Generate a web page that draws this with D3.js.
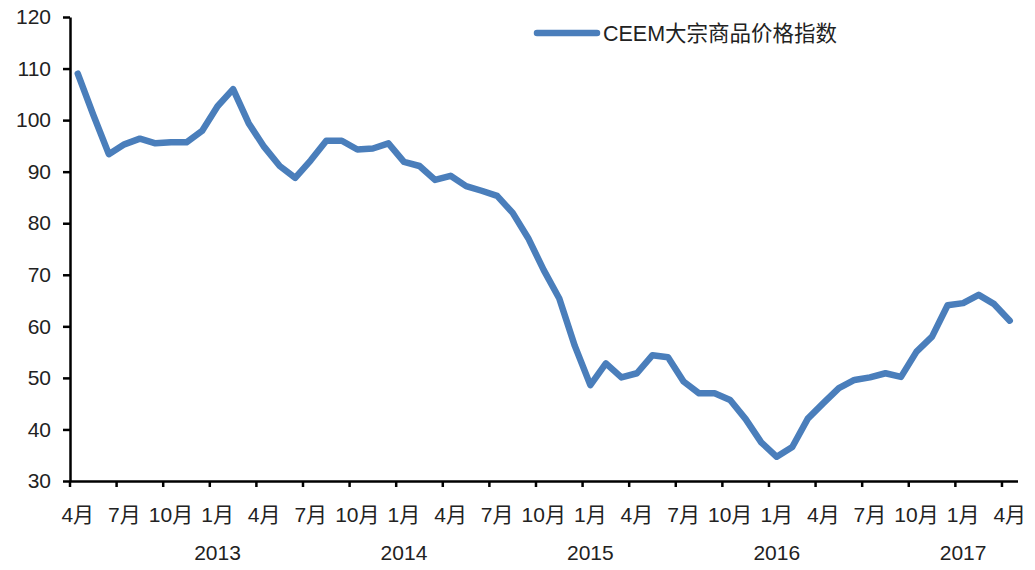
<!DOCTYPE html>
<html>
<head>
<meta charset="utf-8">
<script src="https://cdn.jsdelivr.net/npm/d3@7"></script>
<style>
  body { margin: 0; background: #fff; }
  text { font-family: "Liberation Sans", Arial, "Noto Sans CJK SC", sans-serif; fill: #222; }
</style>
</head>
<body>
<div id="chart"></div>
<script>
// monthly, April 2012 .. April 2017
const months = d3.range(61).map((i) => {
  const m = (3 + i) % 12; // 0-based month, start April
  const y = 2012 + Math.floor((3 + i) / 12);
  return { year: y, month: m + 1 };
});
const values = [
  109, 101, 93.4, 95.3, 96.4, 95.5, 95.7, 95.7, 97.9, 102.7,
  106, 99.4, 94.8, 91.1, 88.8, 92.2, 96, 96, 94.3, 94.5,
  95.5, 91.9, 91.1, 88.4, 89.2, 87.2, 86.3, 85.3, 82, 77.1,
  70.9, 65.4, 56.2, 48.6, 52.8, 50.1, 50.9, 54.4, 54, 49.3,
  47, 47, 45.7, 42, 37.5, 34.7, 36.6, 42.1, 45.1, 48,
  49.6, 50.1, 50.9, 50.2, 55.1, 58, 64.1, 64.5, 66.1, 64.3, 61.1
];
const yTicks = [30, 40, 50, 60, 70, 80, 90, 100, 110, 120];
const seriesName = "CEEM大宗商品价格指数";

const config = {
  width: 1035,
  height: 570,
  left: 70,
  right: 1017.5,
  top: 17,
  bottom: 481,
};

const svg = d3
  .select("#chart")
  .append("svg")
  .attr("width", config.width)
  .attr("height", config.height);

const keys = months.map((d, i) => i);

const x = d3
  .scaleBand()
  .domain(keys)
  .range([config.left, config.right])
  .padding(0);

const y = d3
  .scaleLinear()
  .domain([30, 120])
  .range([config.bottom, config.top]);

const bw = x.bandwidth();

// y axis
const yAxis = d3.axisLeft(y).tickValues(yTicks).tickSize(7).tickSizeOuter(0).tickPadding(12);
svg
  .append("g")
  .attr("transform", `translate(${config.left},0)`)
  .call(yAxis)
  .call((g) => g.select(".domain").attr("stroke", "#000").attr("stroke-width", 2.5))
  .call((g) => g.selectAll(".tick line").attr("stroke", "#000").attr("stroke-width", 2.5))
  .call((g) => g.selectAll(".tick text").style("font-size", "21px").attr("fill", "#222"));

// x axis: ticks at quarter boundaries, labels at month centres
const qTicks = keys.filter((i) => i % 3 === 0);
const xAxis = d3
  .axisBottom(x)
  .tickValues(qTicks)
  .tickSize(6)
  .tickSizeOuter(0)
  .tickPadding(20)
  .tickFormat((i) => months[i].month + "月");
svg
  .append("g")
  .attr("transform", `translate(0,${config.bottom})`)
  .call(xAxis)
  .call((g) => g.select(".domain").attr("stroke", "#000").attr("stroke-width", 2.5))
  .call((g) =>
    g.selectAll(".tick line")
      .attr("stroke", "#000")
      .attr("stroke-width", 2.5)
      .attr("transform", `translate(${-bw / 2},0)`)
  )
  .call((g) => g.selectAll(".tick text").style("font-size", "21px").attr("fill", "#222"));

// year labels under January
svg
  .append("g")
  .selectAll("text")
  .data(keys.filter((i) => months[i].month === 1))
  .join("text")
  .attr("x", (i) => x(i) + bw / 2)
  .attr("y", 560)
  .attr("text-anchor", "middle")
  .style("font-size", "21px")
  .text((i) => months[i].year);

// line
const line = d3
  .line()
  .x((d, i) => x(i) + bw / 2)
  .y((d) => y(d));

svg
  .append("path")
  .datum(values)
  .attr("fill", "none")
  .attr("stroke", "#4a7ebb")
  .attr("stroke-width", 6.5)
  .attr("stroke-linejoin", "round")
  .attr("stroke-linecap", "round")
  .attr("d", line);

// legend
const legend = svg.append("g").attr("transform", "translate(537,33)");
legend
  .append("line")
  .attr("x1", 0)
  .attr("x2", 60)
  .attr("stroke", "#4a7ebb")
  .attr("stroke-width", 6.5)
  .attr("stroke-linecap", "round");
legend
  .append("text")
  .attr("x", 66)
  .attr("y", 8)
  .style("font-size", "21.5px")
  .text(seriesName);
</script>
</body>
</html>
